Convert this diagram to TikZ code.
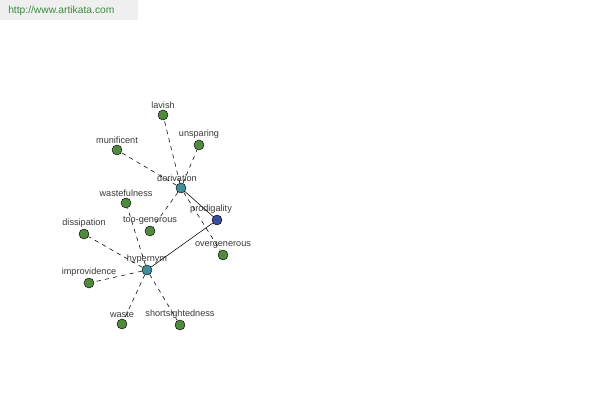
\documentclass[tikz,border=0pt]{standalone}
\usepackage{fontspec}
\setmainfont{Liberation Sans}
\usetikzlibrary{positioning}

\definecolor{leafgreen}{HTML}{4F8A3F}
\definecolor{relteal}{HTML}{3F8F9A}
\definecolor{rootblue}{HTML}{3A4C9C}
\definecolor{txtgray}{HTML}{383838}
\definecolor{linkgreen}{HTML}{3F8A3F}
\definecolor{boxgray}{HTML}{EFEFEF}

\tikzset{
    word/.style={circle, draw=black, line width=0.3pt, fill=leafgreen, minimum size=0.25cm, inner sep=0pt},
    rel/.style={word, fill=relteal},
    root/.style={word, fill=rootblue},
    lbl/.style={font=\fontsize{6.5}{7}\selectfont, text=txtgray, inner sep=0.5pt},
    link/.style={line width=0.4pt, dash pattern=on 3pt off 3pt},
    tie/.style={line width=0.4pt}
}

\begin{document}
\begin{tikzpicture}[x=0.025cm, y=-0.025cm]
    % canvas
    \useasboundingbox (0,0) rectangle (600,400);
    \fill[white] (0,0) rectangle (600,400);

    % site banner
    \fill[boxgray] (0,0) rectangle (138,20);
    \node[font=\fontsize{7.3}{9}\selectfont, text=linkgreen, anchor=west, inner sep=0pt] (site) at (8,11) {http://www.artikata.com};

    % dashed links and solid ties first, nodes on top
    \coordinate (pc) at (217,220);
    \coordinate (dc) at (181,188);
    \coordinate (hc) at (147,270);

    % centre and relation nodes
    \node[root, label={[lbl, xshift=-0.15cm]above:prodigality}] (prodigality) at (pc) {};
    \node[rel, label={[lbl, xshift=-0.1cm]above:derivation}] (derivation) at (dc) {};
    \node[rel, label={[lbl]above:hypernym}] (hypernym) at (hc) {};

    % derivation leaves
    \node[word, label={[lbl]above:lavish}] (lavish) at (163,115) {};
    \node[word, label={[lbl]above:unsparing}] (unsparing) at (199,145) {};
    \node[word, label={[lbl]above:munificent}] (munificent) at (117,150) {};
    \node[word, label={[lbl]above:too-generous}] (toogenerous) at (150,231) {};
    \node[word, label={[lbl]above:overgenerous}] (overgenerous) at (223,255) {};

    % hypernym leaves
    \node[word, label={[lbl]above:wastefulness}] (wastefulness) at (126,203) {};
    \node[word, label={[lbl]above:dissipation}] (dissipation) at (84,234) {};
    \node[word, label={[lbl]above:improvidence}] (improvidence) at (89,283) {};
    \node[word, label={[lbl]above:waste}] (waste) at (122,324) {};
    \node[word, label={[lbl]above:shortsightedness}] (shortsightedness) at (180,325) {};

    % solid ties to the centre
    \draw[tie] (prodigality) -- (derivation);
    \draw[tie] (prodigality) -- (hypernym);

    % dashed links
    \foreach \leaf in {lavish,unsparing,munificent,toogenerous,overgenerous}
        \draw[link] (derivation) -- (\leaf);
    \foreach \leaf in {wastefulness,dissipation,improvidence,waste,shortsightedness}
        \draw[link] (hypernym) -- (\leaf);
\end{tikzpicture}
\end{document}
